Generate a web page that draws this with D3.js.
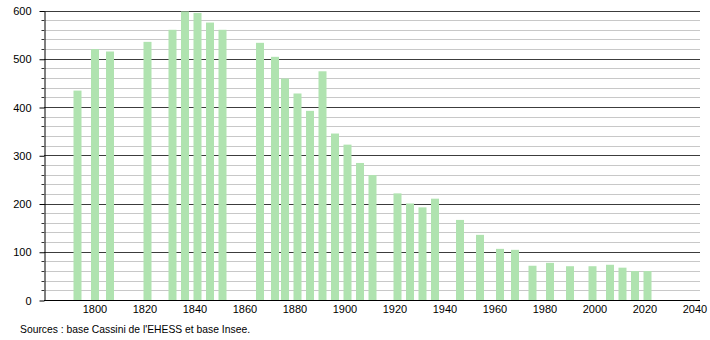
<!DOCTYPE html>
<html>
<head>
<meta charset="utf-8">
<script src="https://cdn.jsdelivr.net/npm/d3@7"></script>
<style>
  body { margin: 0; background: #fff; }
  svg { display: block; font-family: "Liberation Sans", Arial, sans-serif; }
</style>
</head>
<body>
<div id="chart"></div>
<script>
const years = [1793, 1800, 1806, 1821, 1831, 1836, 1841, 1846, 1851, 1866, 1872, 1876, 1881, 1886, 1891, 1896,
  1901, 1906, 1911, 1921, 1926, 1931, 1936, 1946, 1954, 1962, 1968, 1975, 1982, 1990, 1999, 2006, 2011, 2016, 2021]
const population = [434, 520, 515, 535, 560, 598, 595, 575, 560, 533, 504, 459, 428, 392, 474, 345,
  322, 284, 259, 221, 200, 192, 210, 166, 135, 106, 104, 71, 77, 70, 70, 73, 67, 60, 60]
const yTicks = [0, 100, 200, 300, 400, 500, 600]
const xTicks = [1800, 1820, 1840, 1860, 1880, 1900, 1920, 1940, 1960, 1980, 2000, 2020, 2040]
const source = "Sources : base Cassini de l'EHESS et base Insee."

const width = 710, height = 340
const margin = { left: 44, right: 700, top: 10.5, bottom: 300 }

const svg = d3.select('#chart').append('svg')
  .attr('width', width)
  .attr('height', height)

const x = d3.scaleLinear().domain([1779.6, 2042]).range([margin.left, margin.right])
const y = d3.scaleLinear().domain([0, 600]).range([margin.bottom, margin.top])

// minor grid every 20
const minor = d3.range(20, 600, 20).filter(v => v % 100 !== 0)
svg.append('g').selectAll('line').data(minor).join('line')
  .attr('x1', margin.left).attr('x2', margin.right)
  .attr('y1', d => Math.round(y(d)) + 0.5).attr('y2', d => Math.round(y(d)) + 0.5)
  .attr('stroke', '#c8c8c8').attr('stroke-width', 1)

svg.append('g').selectAll('line').data(minor).join('line')
  .attr('x1', margin.left - 2.5).attr('x2', margin.left)
  .attr('y1', d => Math.round(y(d)) + 0.5).attr('y2', d => Math.round(y(d)) + 0.5)
  .attr('stroke', '#333')

// major grid
svg.append('g').selectAll('line').data(yTicks.filter(v => v > 0)).join('line')
  .attr('x1', margin.left).attr('x2', margin.right)
  .attr('y1', d => Math.round(y(d)) + 0.5).attr('y2', d => Math.round(y(d)) + 0.5)
  .attr('stroke', '#3c3c3c').attr('stroke-width', 1)

// bars
svg.append('g').selectAll('rect').data(years).join('rect')
  .attr('x', (d) => x(d) - 4)
  .attr('width', 8)
  .attr('y', (d, i) => y(population[i]))
  .attr('height', (d, i) => margin.bottom - y(population[i]))
  .attr('fill', '#b0e3b0')

// y axis
const yAxis = svg.append('g')
  .attr('transform', `translate(${margin.left + 0.5},0.5)`)
  .call(d3.axisLeft(y).tickValues(yTicks).tickSize(5).tickPadding(8).tickSizeOuter(0))
yAxis.select('.domain').attr('stroke', '#000')
yAxis.selectAll('line').attr('stroke', '#000')
yAxis.selectAll('text').attr('font-size', 11).attr('fill', '#000')
  .attr('font-family', '"Liberation Sans", Arial, sans-serif')

// x baseline
svg.append('line')
  .attr('x1', margin.left).attr('x2', margin.right)
  .attr('y1', margin.bottom + 0.5).attr('y2', margin.bottom + 0.5)
  .attr('stroke', '#000')

svg.append('g').selectAll('text').data(xTicks).join('text')
  .attr('x', d => x(d))
  .attr('y', margin.bottom + 13)
  .attr('text-anchor', 'middle')
  .attr('font-size', 11)
  .attr('fill', '#000')
  .text(d => d)

svg.append('text')
  .attr('x', 20)
  .attr('y', 333)
  .attr('font-size', 11)
  .attr('textLength', 230)
  .attr('lengthAdjust', 'spacingAndGlyphs')
  .attr('fill', '#000')
  .text(source)
</script>
</body>
</html>
